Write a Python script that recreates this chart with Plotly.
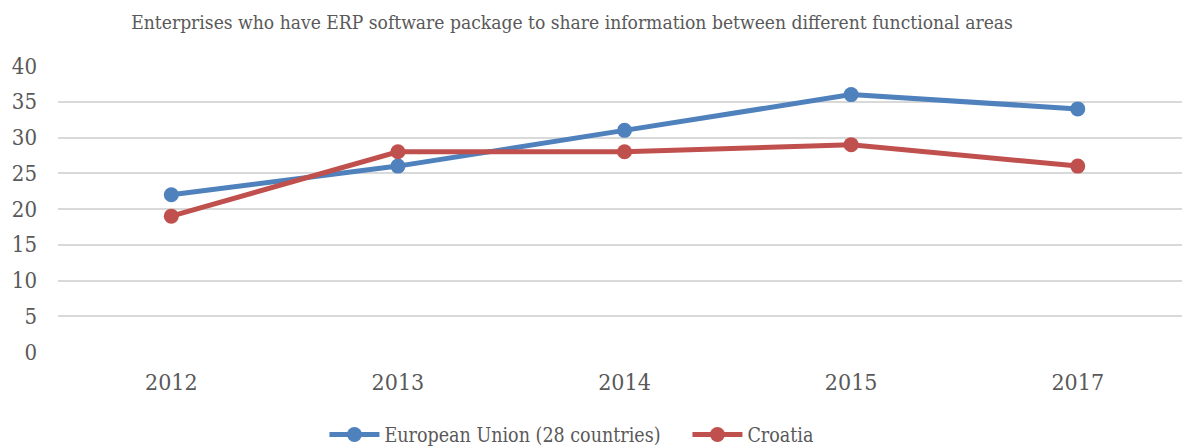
import plotly.graph_objects as go

years = ["2012", "2013", "2014", "2015", "2017"]
eu_values = [22, 26, 31, 36, 34]
croatia_values = [19, 28, 28, 29, 26]

title_text = "Enterprises who have ERP software package to share information between different functional areas"
font_family = "DejaVu Serif Condensed, DejaVu Serif"
text_grey = "#595959"

fig = go.Figure()
fig.add_trace(go.Scatter(
    x=years, y=eu_values, mode="lines+markers",
    name="European Union (28 countries)",
    line=dict(color="#4f81bd", width=5),
    marker=dict(color="#4f81bd", size=15),
))
fig.add_trace(go.Scatter(
    x=years, y=croatia_values, mode="lines+markers",
    name="Croatia",
    line=dict(color="#c0504d", width=5),
    marker=dict(color="#c0504d", size=15),
))

fig.update_layout(
    width=1182, height=446,
    margin=dict(l=58, r=0, t=66, b=94),
    paper_bgcolor="white", plot_bgcolor="white",
    font=dict(family=font_family, color=text_grey, size=22),
    title=dict(text=title_text, x=0.484, xanchor="center", y=0.95, yanchor="middle",
               font=dict(family=font_family, size=19.1, color=text_grey)),
    showlegend=True,
    legend=dict(orientation="h", x=0.56, xanchor="center",
                yref="container", y=0.025, yanchor="middle",
                font=dict(size=19.5, color=text_grey), itemwidth=50,
                entrywidth=298),
    xaxis=dict(type="category", range=[-0.5, 4.46], showgrid=False, zeroline=False,
               showline=False, ticks="", ticklabelstandoff=14, automargin=False,
               tickfont=dict(size=23)),
    yaxis=dict(range=[0, 40], dtick=5, showgrid=True, gridcolor="#d9d9d9", gridwidth=1.5,
               zeroline=False, showline=False, ticks="", ticklabelstandoff=20,
               automargin=False, tickfont=dict(size=22)),
)

# drop the page's default body margin so the figure sits at the window's top-left corner
fig.write_html("out.html", config={"displayModeBar": False},
               post_script="document.body.style.margin='0';")
